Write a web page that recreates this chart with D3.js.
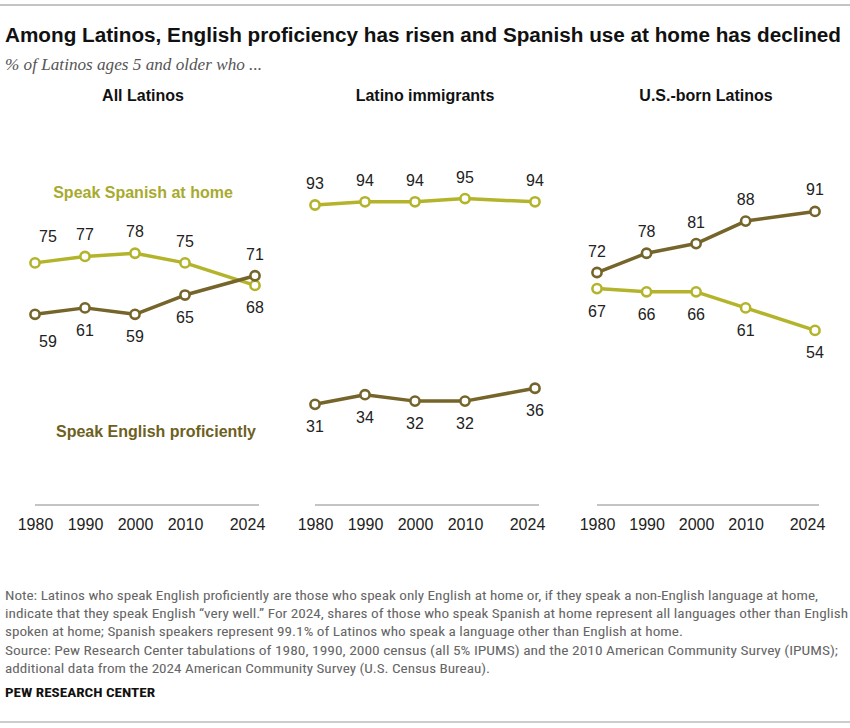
<!DOCTYPE html>
<html>
<head>
<meta charset="utf-8">
<script src="https://cdn.jsdelivr.net/npm/d3@7"></script>
<style>
  html, body { margin: 0; padding: 0; background: #fff; }
  svg { display: block; }
</style>
</head>
<body>
<svg id="chart" width="850" height="728"></svg>
<script>
// ---- Data ----
const years = [1980, 1990, 2000, 2010, 2024];
const panelTitles = ["All Latinos", "Latino immigrants", "U.S.-born Latinos"];
const seriesNames = ["Speak Spanish at home", "Speak English proficiently"];
const spanishAll = [75, 77, 78, 75, 68];
const englishAll = [59, 61, 59, 65, 71];
const spanishImmigrants = [93, 94, 94, 95, 94];
const englishImmigrants = [31, 34, 32, 32, 36];
const spanishUSBorn = [67, 66, 66, 61, 54];
const englishUSBorn = [72, 78, 81, 88, 91];

const title = "Among Latinos, English proficiency has risen and Spanish use at home has declined";
const subtitle = "% of Latinos ages 5 and older who ...";
const noteLines = [
  "Note: Latinos who speak English proficiently are those who speak only English at home or, if they speak a non-English language at home,",
  "indicate that they speak English \u201cvery well.\u201d For 2024, shares of those who speak Spanish at home represent all languages other than English",
  "spoken at home; Spanish speakers represent 99.1% of Latinos who speak a language other than English at home.",
  "Source: Pew Research Center tabulations of 1980, 1990, 2000 census (all 5% IPUMS) and the 2010 American Community Survey (IPUMS);",
  "additional data from the 2024 American Community Survey (U.S. Census Bureau)."
];
const credit = "PEW RESEARCH CENTER";

// ---- Styles ----
const spanishColor = "#b4b42c";
const englishColor = "#75652a";
const spanishLabelColor = "#a8aa2e";
const englishLabelColor = "#6e5f22";
const textColor = "#222";
const sansFont = "'Liberation Sans', Arial, sans-serif";

const panels = [
  { title: panelTitles[0], spanish: spanishAll, english: englishAll, range: [35, 255] },
  { title: panelTitles[1], spanish: spanishImmigrants, english: englishImmigrants, range: [315, 535] },
  { title: panelTitles[2], spanish: spanishUSBorn, english: englishUSBorn, range: [597, 815] }
];

const svg = d3.select("#chart");

// top rule
svg.append("line").attr("x1", 0).attr("x2", 850).attr("y1", 5).attr("y2", 5)
  .attr("stroke", "#b0b0b0").attr("stroke-width", 1.5);

// title
svg.append("text").attr("x", 5).attr("y", 42)
  .attr("font-family", sansFont).attr("font-weight", "bold").attr("font-size", 20)
  .attr("fill", "#111").attr("textLength", 836).attr("lengthAdjust", "spacingAndGlyphs")
  .text(title);

// subtitle
svg.append("text").attr("x", 5).attr("y", 70)
  .attr("font-family", "'Liberation Serif', 'DejaVu Serif', serif").attr("font-style", "italic")
  .attr("font-size", 16.5).attr("fill", "#555")
  .attr("textLength", 257).attr("lengthAdjust", "spacingAndGlyphs")
  .text(subtitle);

const y = d3.scaleLinear().domain([0, 100]).range([504, 182.5]);
const baseY = 505;

panels.forEach((p, pi) => {
  const x = d3.scaleLinear().domain([years[0], years[years.length - 1]]).range(p.range);
  const g = svg.append("g");
  const cx = (p.range[0] + p.range[1]) / 2;

  g.append("text").attr("x", cx - (pi === 0 ? 2 : 0)).attr("y", 101).attr("text-anchor", "middle")
    .attr("font-family", sansFont).attr("font-weight", "bold").attr("font-size", 16)
    .attr("fill", "#111").text(p.title);

  // axis
  const axis = d3.axisBottom(x).tickValues(years).tickFormat(d3.format("d"))
    .tickSize(0).tickPadding(14);
  const ax = g.append("g").attr("transform", `translate(0,${baseY})`).call(axis);
  ax.select(".domain").remove();
  ax.selectAll("text").attr("font-family", sansFont).attr("font-size", 16).attr("fill", textColor)
    .attr("dx", (d, i) => i === years.length - 1 ? -8 : 0);
  g.append("line").attr("x1", p.range[0]).attr("x2", p.range[1] + 4)
    .attr("y1", baseY).attr("y2", baseY).attr("stroke", "#8a8a8a").attr("stroke-width", 1.2);

  const line = d3.line().x((d, i) => x(years[i])).y(d => y(d));
  const series = [
    { key: "spanish", values: p.spanish, color: spanishColor, other: p.english },
    { key: "english", values: p.english, color: englishColor, other: p.spanish }
  ];

  series.forEach(s => {
    g.append("path").datum(s.values).attr("d", line)
      .attr("fill", "none").attr("stroke", s.color).attr("stroke-width", 3.5)
      .attr("stroke-linejoin", "round");
  });
  series.forEach(s => {
    g.selectAll(null).data(s.values).enter().append("circle")
      .attr("cx", (d, i) => x(years[i])).attr("cy", d => y(d)).attr("r", 4.6)
      .attr("fill", "#fff").attr("stroke", s.color).attr("stroke-width", 2.6);
  });
  series.forEach(s => {
    g.selectAll(null).data(s.values).enter().append("text")
      .attr("x", (d, i) => x(years[i]) + (pi === 0 && i === 0 ? 13 : 0))
      .attr("y", (d, i) => {
        const above = d >= s.other[i];
        const extra = (pi === 0 && i === 0) ? 5 : 0;
        return above ? y(d) - 16 - extra : y(d) + 28 + extra;
      })
      .attr("text-anchor", "middle")
      .attr("font-family", sansFont).attr("font-size", 16).attr("fill", textColor)
      .text(d => d);
  });
});

// series annotations
svg.append("text").attr("x", 143).attr("y", 198).attr("text-anchor", "middle")
  .attr("font-family", sansFont).attr("font-weight", "bold").attr("font-size", 16)
  .attr("fill", spanishLabelColor).text(seriesNames[0]);
svg.append("text").attr("x", 156).attr("y", 437).attr("text-anchor", "middle")
  .attr("font-family", sansFont).attr("font-weight", "bold").attr("font-size", 16)
  .attr("fill", englishLabelColor).text(seriesNames[1]);

// notes
const noteWidths = [813, 843, 678, 833, 485];
const noteFont = "'Liberation Sans Narrow', 'Roboto Condensed', 'Liberation Sans', sans-serif";
noteLines.forEach((t, i) => {
  svg.append("text").attr("x", 5).attr("y", 600 + i * 18.2)
    .attr("font-family", noteFont).attr("font-size", 13.5).attr("fill", "#666")
    .attr("textLength", noteWidths[i]).attr("lengthAdjust", "spacingAndGlyphs")
    .text(t);
});
svg.append("text").attr("x", 5).attr("y", 697)
  .attr("font-family", noteFont).attr("font-weight", "bold").attr("font-size", 13)
  .attr("fill", "#111").attr("textLength", 150).attr("lengthAdjust", "spacingAndGlyphs")
  .text(credit);

// bottom rule
svg.append("line").attr("x1", 0).attr("x2", 850).attr("y1", 722).attr("y2", 722)
  .attr("stroke", "#999").attr("stroke-width", 1.2);
</script>
</body>
</html>
